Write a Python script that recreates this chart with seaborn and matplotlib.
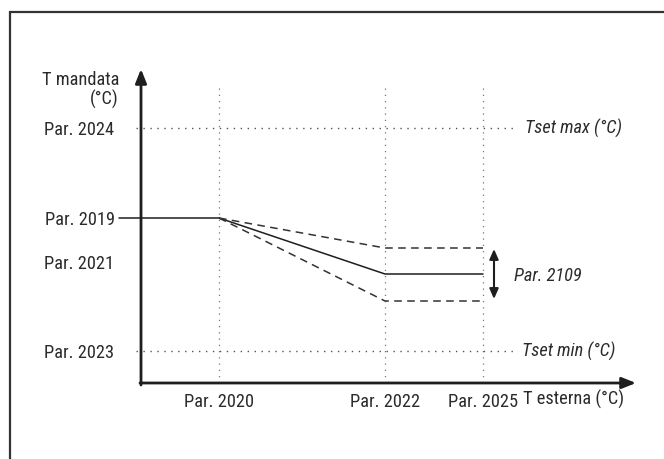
import matplotlib
matplotlib.use("Agg")
import matplotlib.pyplot as plt
from matplotlib.patches import Rectangle
from matplotlib import font_manager
import seaborn as sns
import pandas as pd

# --- schematic values (axis units, origin at the axes corner) ---
x_tick_pos = [78, 244, 342]
x_tick_labels = ["Par. 2020", "Par. 2022", "Par. 2025"]
y_tick_pos = [32, 121, 165, 255]
y_tick_labels = ["Par. 2023", "Par. 2021", "Par. 2019", "Par. 2024"]

curve_x = [-22, 78, 244, 342]
curve_mid = [165, 165, 109, 109]
band_x = [78, 244, 342]
band_hi = [165, 135, 135]
band_lo = [165, 82, 82]

tset_max = 255
tset_min = 32
offset_arrow = (134, 84)

sns.set_theme(style="white")
available = {f.name for f in font_manager.fontManager.ttflist}
narrow = next((n for n in ["Roboto Condensed", "Liberation Sans Narrow", "Arial Narrow",
                           "Barlow Condensed", "PT Sans Narrow", "Archivo Narrow"]
               if n in available), "DejaVu Sans")
plt.rcParams["font.family"] = [narrow, "DejaVu Sans"]
plt.rcParams["font.weight"] = "normal"

TXT = "#2b2b2b"
LINE = "#1e1e1e"
FS = 13.2

fig = plt.figure(figsize=(6.64, 4.59), dpi=100)
W, H = 664, 459
ax = fig.add_axes([141 / W, (H - 383) / H, (636 - 141) / W, (383 - 69) / H])
ax.set_xlim(0, 495)
ax.set_ylim(0, 314)
for s in ax.spines.values():
    s.set_visible(False)
ax.set_facecolor("none")

# outer frame
fig.patches.append(Rectangle((10 / W, -0.2), 1.2, 1 - 12 / H + 0.2, transform=fig.transFigure,
                             fill=False, lw=1.6, ec="#333333", zorder=0))

# guide lines
for yv in (tset_max, tset_min):
    ax.plot([-5, 374], [yv, yv], ls=(0, (1, 4)), lw=1.0, color="#555555", clip_on=False)
for xv in x_tick_pos:
    ax.plot([xv, xv], [0, 300], ls=(0, (1, 4)), lw=0.9, color="#777777", clip_on=False)

# curves
df_mid = pd.DataFrame({"x": curve_x, "y": curve_mid})
df_hi = pd.DataFrame({"x": band_x, "y": band_hi})
df_lo = pd.DataFrame({"x": band_x, "y": band_lo})
sns.lineplot(data=df_mid, x="x", y="y", ax=ax, color=LINE, lw=1.1, clip_on=False)
sns.lineplot(data=df_hi, x="x", y="y", ax=ax, color="#333333", lw=1.1, dashes=False, linestyle=(0, (5, 3.5)))
sns.lineplot(data=df_lo, x="x", y="y", ax=ax, color="#333333", lw=1.1, dashes=False, linestyle=(0, (5, 3.5)))

# axes arrows
arrow = dict(arrowstyle="-|>,head_length=0.7,head_width=0.28", color=LINE, lw=2.0, shrinkA=0, shrinkB=0)
ax.annotate("", xy=(495, 0), xytext=(-1, 0), arrowprops=arrow, annotation_clip=False)
ax.annotate("", xy=(0, 314), xytext=(0, -2), arrowprops=arrow, annotation_clip=False)

# offset arrow
ax.annotate("", xy=(353, offset_arrow[0]), xytext=(353, offset_arrow[1]),
            arrowprops=dict(arrowstyle="<|-|>,head_length=0.5,head_width=0.22", color=LINE, lw=1.5,
                            shrinkA=0, shrinkB=0), annotation_clip=False)

# ticks
ax.set_xticks(x_tick_pos, x_tick_labels)
ax.set_yticks(y_tick_pos, y_tick_labels)
ax.tick_params(axis="x", length=0, pad=7, labelsize=FS, labelcolor=TXT)
ax.tick_params(axis="y", length=0, pad=19, labelsize=FS, labelcolor=TXT)
ax.set_xlabel("")
ax.set_ylabel("")

# annotations
ax.text(-22, 293, "T mandata\n(°C)", ha="right", va="center", multialignment="right",
        fontsize=FS, color=TXT, linespacing=1.0)
ax.text(382, -16, "T esterna (°C)", ha="left", va="center", fontsize=FS, color=TXT)
ax.text(384, tset_max, "Tset max (°C)", ha="left", va="center", fontsize=FS, color=TXT, style="italic")
ax.text(381, tset_min, "Tset min (°C)", ha="left", va="center", fontsize=FS, color=TXT, style="italic")
ax.text(373, 107, "Par. 2109", ha="left", va="center", fontsize=FS, color=TXT, style="italic")

fig.savefig("out.png", dpi=100)
